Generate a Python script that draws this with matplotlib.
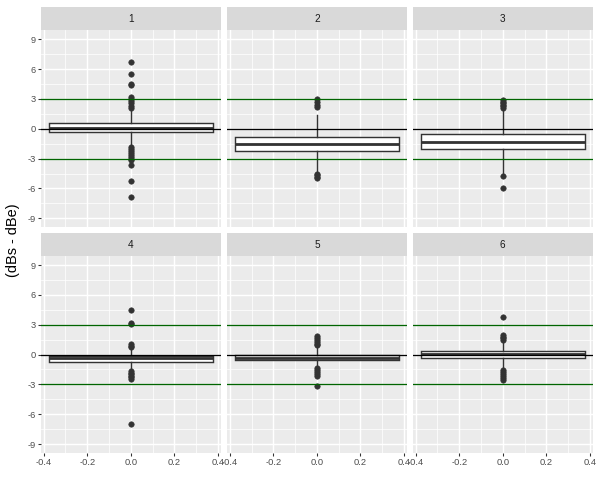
import matplotlib
matplotlib.use('Agg')
import matplotlib.pyplot as plt

plt.rcParams['font.family'] = ['Liberation Sans', 'DejaVu Sans']

# facet labels and box statistics
panels = ['1', '2', '3', '4', '5', '6']
q1 = [-0.32, -2.20, -2.03, -0.75, -0.50, -0.37]
med = [0.05, -1.50, -1.29, -0.35, -0.38, 0.05]
q3 = [0.56, -0.79, -0.52, -0.10, -0.02, 0.37]
whislo = [-1.60, -4.35, -4.50, -1.50, -1.20, -1.35]
whishi = [1.90, 1.39, 1.90, 0.55, 0.80, 1.30]
fliers = [
    [6.75, 5.55, 4.55, 4.35, 3.2, 3.0, 2.8, 2.55, 2.3, 2.06,
     -1.8, -2.0, -2.2, -2.4, -2.6, -2.8, -3.0, -3.15, -3.65, -5.3, -6.9],
    [2.97, 2.73, 2.4, 2.16, -4.55, -4.7, -4.85, -5.0],
    [2.85, 2.7, 2.55, 2.4, 2.25, 2.1, -4.75, -5.99],
    [4.45, 3.2, 3.1, 1.05, 0.9, 0.75,
     -1.7, -1.85, -2.0, -2.15, -2.3, -2.45, -7.0],
    [1.9, 1.7, 1.5, 1.3, 1.1, 0.95, -1.4, -1.6, -1.8, -2.0, -2.2, -3.15],
    [3.75, 1.95, 1.8, 1.65, 1.5, -1.55, -1.75, -1.95, -2.15, -2.35, -2.55],
]
ref_lines = [3, -3]
yticks = [-9, -6, -3, 0, 3, 6, 9]
xticks = [-0.4, -0.2, 0.0, 0.2, 0.4]
xtick_labels = ['-0.4', '-0.2', '0.0', '0.2', '0.4']

W, H = 600, 477
fig = plt.figure(figsize=(W / 72, H / 72), dpi=72)

col_x = [40.9, 227.0, 412.9]
pw = 179.8
row_top = [30.3, 256.1]
ph = 196.9
sh = 23.0

for i, name in enumerate(panels):
    r, c = divmod(i, 3)
    x0 = col_x[c]
    top = row_top[r]
    ax = fig.add_axes([x0 / W, 1 - (top + ph) / H, pw / W, ph / H])
    sax = fig.add_axes([x0 / W, 1 - top / H, pw / W, sh / H])
    sax.set_facecolor('#D9D9D9')
    sax.set_xticks([])
    sax.set_yticks([])
    for s in sax.spines.values():
        s.set_visible(False)
    sax.text(0.5, 0.5, name, ha='center', va='center', fontsize=10, color='#1A1A1A',
             transform=sax.transAxes)

    ax.set_facecolor('#EBEBEB')
    for s in ax.spines.values():
        s.set_visible(False)

    stats = [dict(q1=q1[i], med=med[i], q3=q3[i], whislo=whislo[i], whishi=whishi[i],
                  fliers=fliers[i])]
    ax.bxp(stats, positions=[0], widths=0.75, patch_artist=True, showcaps=False,
           manage_ticks=False,
           boxprops=dict(facecolor='white', edgecolor='#333333', linewidth=1.42),
           medianprops=dict(color='#333333', linewidth=2.8, solid_capstyle='butt'),
           whiskerprops=dict(color='#333333', linewidth=1.42),
           flierprops=dict(marker='o', markerfacecolor='#333333', markeredgecolor='#333333',
                           markersize=5.5, markeredgewidth=0.5),
           zorder=2)
    for yv in ref_lines:
        ax.axhline(yv, color='#006400', linewidth=1.3, zorder=3)
    ax.axhline(0, color='black', linewidth=1.3, zorder=3)

    ax.set_xlim(-0.4125, 0.4125)
    ax.set_ylim(-9.9, 9.9)
    ax.set_yticks(yticks)
    ax.set_yticks([-7.5, -4.5, -1.5, 1.5, 4.5, 7.5], minor=True)
    ax.set_xticks(xticks)
    ax.set_xticks([-0.3, -0.1, 0.1, 0.3], minor=True)
    ax.grid(which='major', color='white', linewidth=1.42)
    ax.grid(which='minor', color='white', linewidth=0.71)
    ax.set_axisbelow(True)
    ax.tick_params(which='minor', length=0)
    ax.tick_params(which='major', length=2.75, width=1.07, color='#333333',
                   labelsize=9.3, labelcolor='#4D4D4D', pad=2.2)
    if c == 0:
        ax.set_yticklabels([str(v) for v in yticks])
    else:
        ax.tick_params(axis='y', length=0, labelleft=False)
    if r == 1:
        ax.set_xticklabels(xtick_labels)
    else:
        ax.tick_params(axis='x', length=0, labelbottom=False)

fig.text(13 / W, 1 - 240.5 / H, '(dBs - dBe)', rotation=90, ha='center', va='center',
         fontsize=14.5, color='black')

fig.savefig('out.png', dpi=72)
